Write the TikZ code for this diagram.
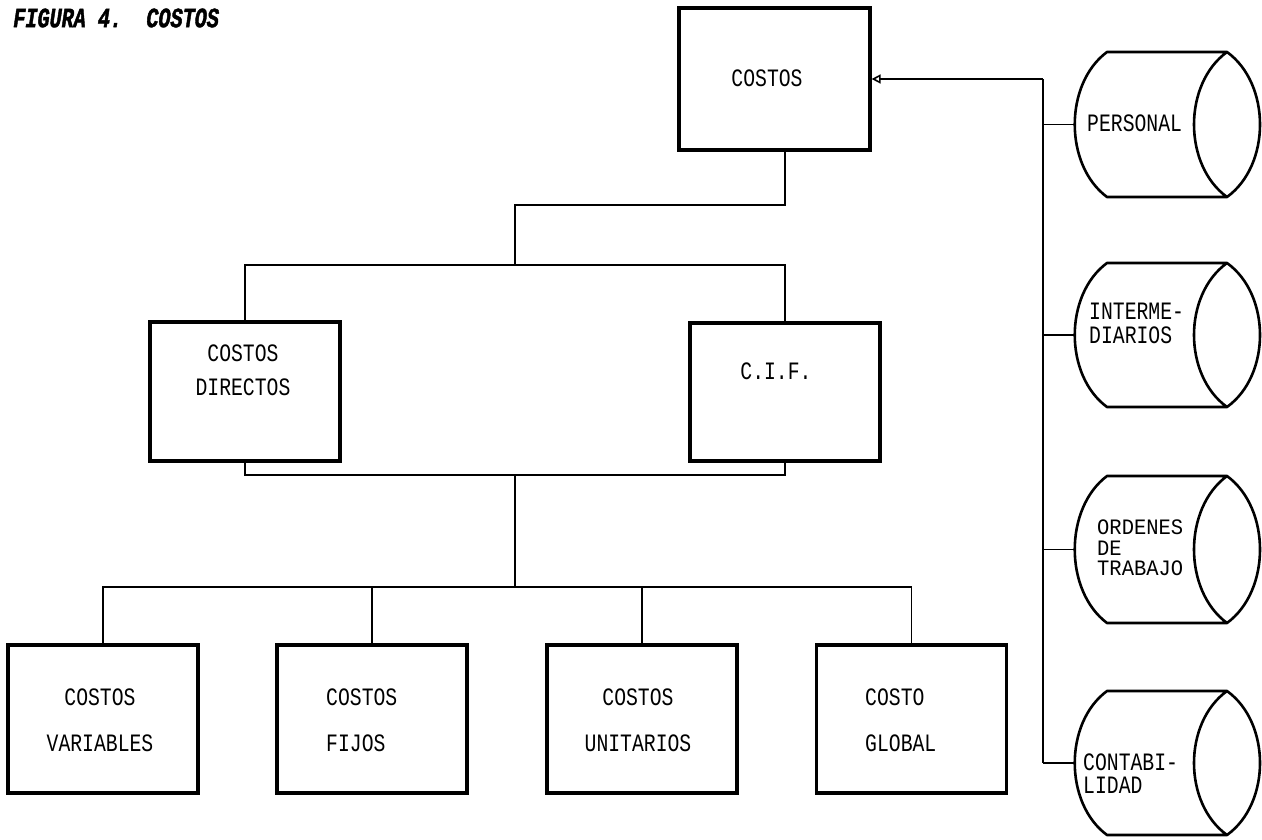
\documentclass[tikz,border=0pt]{standalone}
\usepackage{fontspec}
\usetikzlibrary{arrows.meta}
\newfontfamily\dotf[FakeStretch=0.79]{Liberation Mono}
\newfontfamily\dotw[FakeStretch=0.93]{Liberation Mono}
\newfontfamily\titlef[FakeStretch=0.72,FakeSlant=0.15,FakeBold=1.5]{Liberation Mono}
\newcommand\drawcyl[2]{%
  \pgfmathsetmacro\cylT{#1}\pgfmathsetmacro\cylB{#2}%
  \pgfmathsetmacro\cylU{#1+0.22*(#2-#1)}\pgfmathsetmacro\cylD{#2-0.22*(#2-#1)}%
  \draw[cylline] (1227,\cylT) -- (1107,\cylT) .. controls (1064,\cylU) and (1064,\cylD) .. (1107,\cylB) -- (1227,\cylB)
    .. controls (1271,\cylD) and (1271,\cylU) .. (1227,\cylT)
    .. controls (1183,\cylU) and (1183,\cylD) .. (1227,\cylB);
}
\begin{document}
\begin{tikzpicture}[x=1pt,y=-1pt,
  box/.style={draw, line width=3.2pt, minimum width=190pt, inner sep=0pt},
  wire/.style={line width=1.1pt},
  cylline/.style={line width=2.6pt, line join=round},
  txt/.style={font=\dotf\fontsize{25}{30}\selectfont, inner sep=0pt, align=center},
  ltxt/.style={font=\dotf\fontsize{25}{30}\selectfont, inner sep=0pt, align=left, anchor=west},
  arr/.style={wire, -{Triangle[open,length=9pt,width=9pt,line width=1.6pt]}}]
\useasboundingbox (0,0) rectangle (1262,839);

% title
\node[inner sep=0pt, anchor=west, font=\titlef\bfseries\fontsize{28}{30}\selectfont] (title) at (12,18) {FIGURA 4.\ \ COSTOS};

% boxes
\node[box, minimum width=191pt, minimum height=142pt] (costos) at (774.5,79) {};
\node[box, minimum height=139pt] (cd) at (245,391.5) {};
\node[box, minimum height=138pt] (cif) at (785,392) {};
\node[box, minimum height=148pt] (var) at (103,719) {};
\node[box, minimum height=148pt] (fij) at (372,719) {};
\node[box, minimum height=148pt] (uni) at (642,719) {};
\node[box, minimum height=148pt] (glob) at (911.5,719) {};

% box texts
\node[txt] (costosT) at (767,78) {COSTOS};
\node[txt, font=\dotf\fontsize{25}{34}\selectfont] (cdT) at (243,370) {COSTOS\\DIRECTOS};
\node[txt] (cifT) at (776,371) {C.I.F.};
\node[txt, font=\dotf\fontsize{25}{46}\selectfont] (varT) at (100,720) {COSTOS\\VARIABLES};
\node[ltxt, font=\dotf\fontsize{25}{46}\selectfont] (fijT) at (326,720) {COSTOS\\FIJOS};
\node[txt, font=\dotf\fontsize{25}{46}\selectfont] (uniT) at (638,720) {COSTOS\\UNITARIOS};
\node[ltxt, font=\dotf\fontsize{25}{46}\selectfont] (globT) at (865,720) {COSTO\\GLOBAL};

% tree connectors
\coordinate (j1) at (515,205);
\coordinate (j2) at (515,265);
\coordinate (j3) at (515,475);
\coordinate (j4) at (515,587);
\draw[wire] (costos.south -| cif) -- (cif |- j1) -- (j1) -- (j2);
\draw[wire] (cd.north) -- (cd.north |- j2) -- (cif.north |- j2) -- (cif.north);
\draw[wire] (cd.south) -- (cd.south |- j3) -- (cif.south |- j3) -- (cif.south);
\draw[wire] (j3) -- (j4);
\draw[wire] (var.north) -- (var.north |- j4) -- (glob.north |- j4) -- (glob.north);
\draw[wire] (fij.north) -- (fij.north |- j4);
\draw[wire] (uni.north) -- (uni.north |- j4);

% cylinders
\drawcyl{52}{197}
\drawcyl{263}{407}
\drawcyl{476}{623}
\drawcyl{691}{835}
\coordinate (pL) at (1075,124.5);
\coordinate (iL) at (1075,335);
\coordinate (oL) at (1075,549.5);
\coordinate (cL) at (1075,763);
\node[ltxt] (pT) at (1087,123) {PERSONAL};
\node[ltxt, font=\dotf\fontsize{25}{24}\selectfont] (iT) at (1089,323) {INTERME-\\DIARIOS};
\node[ltxt, font=\dotw\fontsize{22}{20.5}\selectfont] (oT) at (1097,548) {ORDENES\\DE\\TRABAJO};
\node[ltxt, font=\dotf\fontsize{25}{23}\selectfont] (cT) at (1083,774) {CONTABI-\\LIDAD};

% bus
\coordinate (busTop) at (1043,79);
\coordinate (busBot) at (1043,763);
\draw[wire] (busTop) -- (busBot);
\draw[arr] (busTop) -- (costos.east);
\draw[wire] (pL -| busTop) -- (pL);
\draw[wire] (iL -| busTop) -- (iL);
\draw[wire] (oL -| busTop) -- (oL);
\draw[wire] (busBot) -- (cL);
\end{tikzpicture}
\end{document}
